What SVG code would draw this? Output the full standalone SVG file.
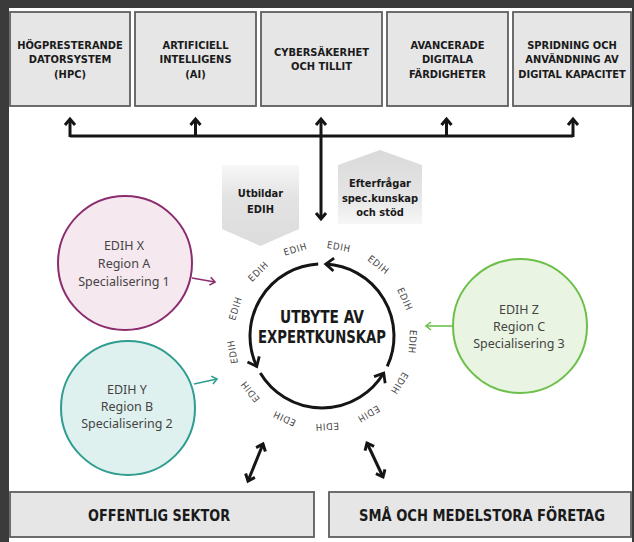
<svg xmlns="http://www.w3.org/2000/svg" width="634" height="542" viewBox="0 0 634 542">
<defs>
<linearGradient id="gUp" x1="0" y1="0" x2="0" y2="1">
<stop offset="0" stop-color="#f7f7f7"/><stop offset="0.4" stop-color="#e3e3e3"/><stop offset="1" stop-color="#dcdcdc"/>
</linearGradient>
<linearGradient id="gDown" x1="0" y1="0" x2="0" y2="1">
<stop offset="0" stop-color="#dadada"/><stop offset="0.6" stop-color="#e4e4e4"/><stop offset="1" stop-color="#f7f7f7"/>
</linearGradient>
<marker id="chev" markerUnits="userSpaceOnUse" orient="auto" overflow="visible" markerWidth="1" markerHeight="1" refX="0" refY="0">
<path d="M-8,-6.5 L0,0 L-8,6.5" fill="none" stroke="#151515" stroke-width="2.8" stroke-linejoin="miter"/>
</marker>
<marker id="bk" markerUnits="userSpaceOnUse" orient="auto-start-reverse" overflow="visible" markerWidth="1" markerHeight="1" refX="0" refY="0">
<path d="M-6,-5 L0,0 L-6,5" fill="none" stroke="#151515" stroke-width="3" stroke-linejoin="miter"/>
</marker>
<marker id="pu" markerUnits="userSpaceOnUse" orient="auto" overflow="visible" markerWidth="1" markerHeight="1" refX="0" refY="0">
<path d="M-5,-4 L0,0 L-5,4" fill="none" stroke="#8b2c6e" stroke-width="1.6"/>
</marker>
<marker id="te" markerUnits="userSpaceOnUse" orient="auto" overflow="visible" markerWidth="1" markerHeight="1" refX="0" refY="0">
<path d="M-5,-4 L0,0 L-5,4" fill="none" stroke="#2f9d8f" stroke-width="1.6"/>
</marker>
<marker id="gr" markerUnits="userSpaceOnUse" orient="auto" overflow="visible" markerWidth="1" markerHeight="1" refX="0" refY="0">
<path d="M-5,-4 L0,0 L-5,4" fill="none" stroke="#6cc04a" stroke-width="1.6"/>
</marker>
</defs>
<style>
.box{fill:#e6e6e6;stroke:#5e5e5e;stroke-width:1.8}
.bt{font-family:"DejaVu Sans Condensed","DejaVu Sans",sans-serif;font-weight:bold;fill:#1a1a1a;text-anchor:middle}
.tb{font-size:11px}
.ct{font-family:"Noto Sans","Open Sans",sans-serif;fill:#444;text-anchor:middle;font-size:12.5px}
.ed{font-family:"DejaVu Sans Condensed","DejaVu Sans",sans-serif;fill:#444;font-size:9.5px;letter-spacing:0.8px;text-anchor:middle}
.ln{stroke:#151515;stroke-width:3;fill:none}
</style>
<rect x="0" y="0" width="634" height="542" fill="#3b3b3b"/>
<rect x="9" y="8" width="623" height="534" fill="#ffffff"/>

<g id="hpc"><rect class="box" x="10" y="12" width="120" height="94"/>
<text class="bt tb" x="70" y="48.5">HÖGPRESTERANDE</text><text class="bt tb" x="70" y="63">DATORSYSTEM</text><text class="bt tb" x="70" y="77.5">(HPC)</text></g>
<g id="ai"><rect class="box" x="135" y="12" width="121" height="94"/>
<text class="bt tb" x="195.5" y="48.5">ARTIFICIELL</text><text class="bt tb" x="195.5" y="63">INTELLIGENS</text><text class="bt tb" x="195.5" y="77.5">(AI)</text></g>
<g id="cyber"><rect class="box" x="261" y="12" width="121" height="94"/>
<text class="bt tb" x="321.5" y="55.5">CYBERSÄKERHET</text><text class="bt tb" x="321.5" y="70">OCH TILLIT</text></g>
<g id="avancerade"><rect class="box" x="387" y="12" width="121" height="94"/>
<text class="bt tb" x="447.5" y="48.5">AVANCERADE</text><text class="bt tb" x="447.5" y="63">DIGITALA</text><text class="bt tb" x="447.5" y="77.5">FÄRDIGHETER</text></g>
<g id="spridning"><rect class="box" x="513" y="12" width="118" height="94"/>
<text class="bt tb" x="572" y="48.5">SPRIDNING OCH</text><text class="bt tb" x="572" y="63">ANVÄNDNING AV</text><text class="bt tb" x="572" y="77.5">DIGITAL KAPACITET</text></g>

<g id="utbildar"><polygon points="222,165 299,165 299,229 260.5,246 222,229" fill="url(#gUp)"/>
<text class="bt" font-size="11" x="260.5" y="197">Utbildar</text><text class="bt" font-size="11" x="260.5" y="213">EDIH</text></g>
<g id="efterfragar"><polygon points="380,150 422,165 422,224 338,224 338,165" fill="url(#gDown)"/>
<text class="bt" font-size="11" x="380" y="187">Efterfrågar</text><text class="bt" font-size="11" x="380" y="201.5">spec.kunskap</text><text class="bt" font-size="11" x="380" y="216">och stöd</text></g>

<g id="edihx"><circle cx="125" cy="263" r="67" fill="#f6e8ef" stroke="#8b2c6e" stroke-width="2"/>
<text class="ct" x="124" y="250">EDIH X</text><text class="ct" x="124" y="268">Region A</text><text class="ct" x="124" y="286">Specialisering 1</text></g>
<g id="edihy"><circle cx="128" cy="408" r="67" fill="#dff1ef" stroke="#2f9d8f" stroke-width="2"/>
<text class="ct" x="127" y="394">EDIH Y</text><text class="ct" x="127" y="411">Region B</text><text class="ct" x="127" y="428">Specialisering 2</text></g>
<g id="edihz"><circle cx="520" cy="326" r="67" fill="#e9f4e3" stroke="#6cc04a" stroke-width="2"/>
<text class="ct" x="519" y="314">EDIH Z</text><text class="ct" x="519" y="331">Region C</text><text class="ct" x="519" y="348">Specialisering 3</text></g>

<g id="utbyte">
<text class="bt" font-size="18" x="322" y="323" textLength="84" lengthAdjust="spacingAndGlyphs">UTBYTE AV</text>
<text class="bt" font-size="18" x="322" y="343" textLength="128" lengthAdjust="spacingAndGlyphs">EXPERTKUNSKAP</text>
<g class="ed">
<text x="322" y="248.5" transform="rotate(-17 322 336)">EDIH</text>
<text x="322" y="248.5" transform="rotate(10.7 322 336)">EDIH</text>
<text x="322" y="248.5" transform="rotate(38.4 322 336)">EDIH</text>
<text x="322" y="248.5" transform="rotate(66.1 322 336)">EDIH</text>
<text x="322" y="248.5" transform="rotate(93.8 322 336)">EDIH</text>
<text x="322" y="248.5" transform="rotate(121.5 322 336)">EDIH</text>
<text x="322" y="248.5" transform="rotate(149.2 322 336)">EDIH</text>
<text x="322" y="248.5" transform="rotate(176.9 322 336)">EDIH</text>
<text x="322" y="248.5" transform="rotate(204.6 322 336)">EDIH</text>
<text x="322" y="248.5" transform="rotate(232.3 322 336)">EDIH</text>
<text x="322" y="248.5" transform="rotate(260 322 336)">EDIH</text>
<text x="322" y="248.5" transform="rotate(287.7 322 336)">EDIH</text>
<text x="322" y="248.5" transform="rotate(315.4 322 336)">EDIH</text>
</g>
</g>

<g id="offentlig"><rect class="box" x="10" y="492" width="304" height="45"/>
<text class="bt" font-size="16" x="159" y="521" textLength="142" lengthAdjust="spacingAndGlyphs">OFFENTLIG SEKTOR</text></g>
<g id="sma"><rect class="box" x="329" y="492" width="302" height="45"/>
<text class="bt" font-size="16" x="482" y="521" textLength="246" lengthAdjust="spacingAndGlyphs">SMÅ OCH MEDELSTORA FÖRETAG</text></g>

<g id="connectors">
<path class="ln" d="M70,136 H573"/>
<path class="ln" d="M70,137 V119" marker-end="url(#bk)"/>
<path class="ln" d="M195.5,137 V119" marker-end="url(#bk)"/>
<path class="ln" d="M321,137 V119" marker-end="url(#bk)"/>
<path class="ln" d="M446.5,137 V119" marker-end="url(#bk)"/>
<path class="ln" d="M573,137 V119" marker-end="url(#bk)"/>
<path class="ln" d="M321,136 V219" marker-end="url(#bk)"/>
<path class="ln" d="M387.25,366.43 A72,72 0 0 0 325.77,264.1" marker-end="url(#chev)"/>
<path class="ln" d="M318.23,264.1 A72,72 0 0 0 256.75,366.43" marker-end="url(#chev)"/>
<path class="ln" d="M260.28,373.08 A72,72 0 0 0 383.72,373.08" marker-end="url(#chev)"/>
<path d="M192,278 L215,282" stroke="#8b2c6e" stroke-width="1.6" fill="none" marker-end="url(#pu)"/>
<path d="M194,384 L217,379" stroke="#2f9d8f" stroke-width="1.6" fill="none" marker-end="url(#te)"/>
<path d="M453,326 L426,326" stroke="#6cc04a" stroke-width="1.6" fill="none" marker-end="url(#gr)"/>
<path class="ln" d="M263,444 L248,481" marker-start="url(#bk)" marker-end="url(#bk)"/>
<path class="ln" d="M367,443 L383,477" marker-start="url(#bk)" marker-end="url(#bk)"/>
</g>
</svg>
